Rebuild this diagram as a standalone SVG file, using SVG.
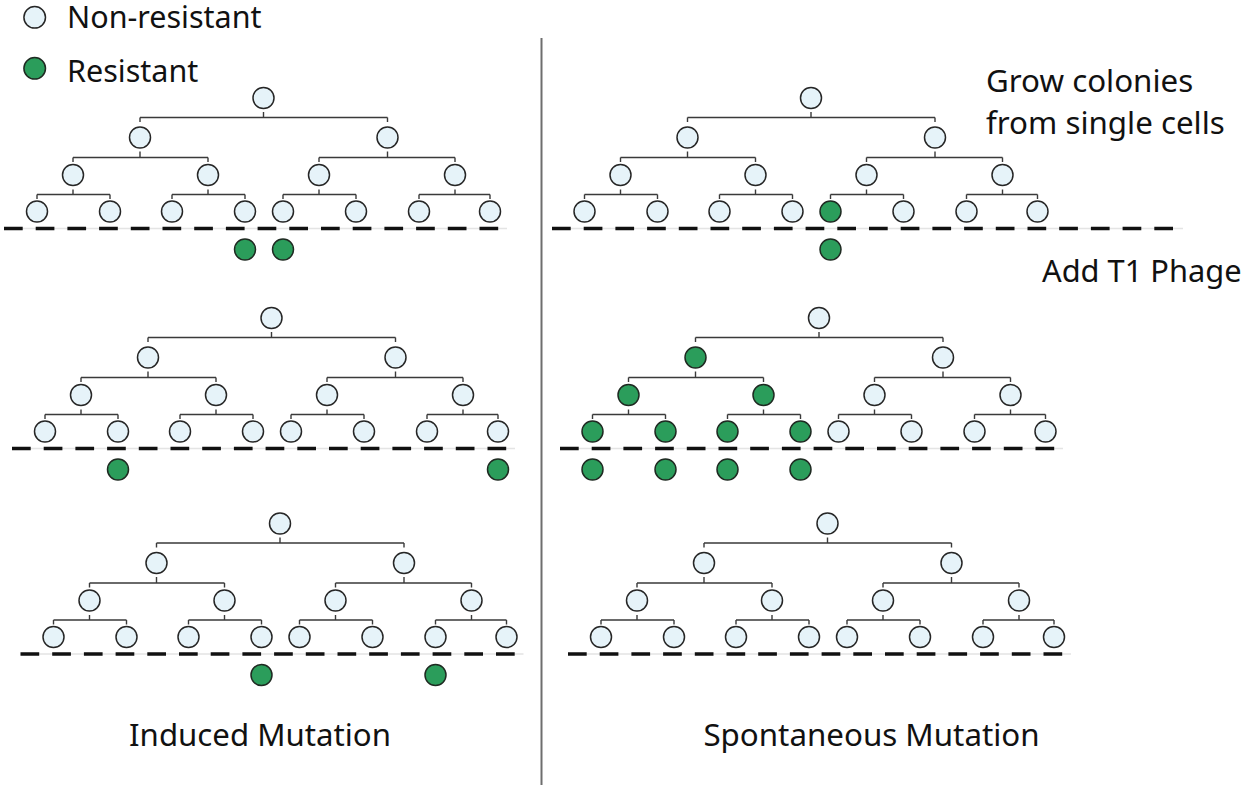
<svg xmlns="http://www.w3.org/2000/svg" xmlns:xlink="http://www.w3.org/1999/xlink" width="1248" height="789" viewBox="0 0 1248 789">
<style>
.n{fill:#e6f3f9;stroke:#262626;stroke-width:1.5}
.r{fill:#2b9d5b;stroke:#1f2a22;stroke-width:1.5}
.lk{fill:none;stroke:#3a3a3a;stroke-width:1.4}
.dash{fill:none;stroke:#111;stroke-width:3.6;stroke-dasharray:18.7 13}
.under{fill:none;stroke:#e4e4e4;stroke-width:1.5}
.t{font-family:"Noto Sans","Open Sans","Liberation Sans",sans-serif;fill:#111}
</style>
<defs>
<path id="links" d="M263.5 112V117.5M140 117.5H387.5M140 117.5V122M387.5 117.5V122M140 151.5V157.5M73 157.5H208M73 157.5V162M208 157.5V162M387.5 151.5V157.5M319 157.5H455M319 157.5V162M455 157.5V162M73 189.5V194.5M37 194.5H110M37 194.5V199M110 194.5V199M208 189.5V194.5M172 194.5H245M172 194.5V199M245 194.5V199M319 189.5V194.5M283 194.5H356M283 194.5V199M356 194.5V199M455 189.5V194.5M419 194.5H490M419 194.5V199M490 194.5V199"/>
</defs>
<rect width="1248" height="789" fill="#fff"/>

<g id="legend">
<g id="legend-nonresistant"><circle class="n" cx="34.7" cy="17.3" r="10.8"/><text class="t" x="67" y="28" font-size="30.5">Non-resistant</text></g>
<g id="legend-resistant"><circle class="r" cx="34.7" cy="68.3" r="10.8"/><text class="t" x="67" y="81.5" font-size="30.5">Resistant</text></g>
</g>

<line id="divider" x1="541.5" y1="38" x2="541.5" y2="785" stroke="#6e6e6e" stroke-width="2"/>

<g id="connectors" class="lk">
<use xlink:href="#links" href="#links"/>
<use xlink:href="#links" href="#links" transform="translate(547.5 0)"/>
<use xlink:href="#links" href="#links" transform="translate(8 220)"/>
<use xlink:href="#links" href="#links" transform="translate(555.5 220)"/>
<use xlink:href="#links" href="#links" transform="translate(16.5 425.5)"/>
<use xlink:href="#links" href="#links" transform="translate(564 425.5)"/>
</g>

<g id="thresholds">
<path class="under" d="M4 228.5H507M552 228.5H1183M12 448.5H515M560 448.5H1063M20.5 654H523.5M568 654H1071"/>
<path class="dash" d="M4 228.5H499M552 228.5H1173M12 448.5H507M560 448.5H1055M20.5 654H515.5M568 654H1063"/>
</g>

<g id="panel-top-left">
<g id="p1-root"><circle class="n" cx="263.5" cy="98" r="10.5"/></g>
<g id="p1-a"><circle class="n" cx="140" cy="137.5" r="10.5"/></g>
<g id="p1-b"><circle class="n" cx="387.5" cy="137.5" r="10.5"/></g>
<g id="p1-aa"><circle class="n" cx="73" cy="175" r="10.5"/></g>
<g id="p1-ab"><circle class="n" cx="208" cy="175" r="10.5"/></g>
<g id="p1-ba"><circle class="n" cx="319" cy="175" r="10.5"/></g>
<g id="p1-bb"><circle class="n" cx="455" cy="175" r="10.5"/></g>
<g id="p1-aaa"><circle class="n" cx="37" cy="211.5" r="10.5"/></g>
<g id="p1-aab"><circle class="n" cx="110" cy="211.5" r="10.5"/></g>
<g id="p1-aba"><circle class="n" cx="172" cy="211.5" r="10.5"/></g>
<g id="p1-abb"><circle class="n" cx="245" cy="211.5" r="10.5"/></g>
<g id="p1-baa"><circle class="n" cx="283" cy="211.5" r="10.5"/></g>
<g id="p1-bab"><circle class="n" cx="356" cy="211.5" r="10.5"/></g>
<g id="p1-bba"><circle class="n" cx="419" cy="211.5" r="10.5"/></g>
<g id="p1-bbb"><circle class="n" cx="490" cy="211.5" r="10.5"/></g>
<g id="p1-survivor1"><circle class="r" cx="245" cy="249.5" r="10.5"/></g>
<g id="p1-survivor2"><circle class="r" cx="283" cy="249.5" r="10.5"/></g>
</g>

<g id="panel-top-right" transform="translate(547.5 0)">
<g id="p2-root"><circle class="n" cx="263.5" cy="98" r="10.5"/></g>
<g id="p2-a"><circle class="n" cx="140" cy="137.5" r="10.5"/></g>
<g id="p2-b"><circle class="n" cx="387.5" cy="137.5" r="10.5"/></g>
<g id="p2-aa"><circle class="n" cx="73" cy="175" r="10.5"/></g>
<g id="p2-ab"><circle class="n" cx="208" cy="175" r="10.5"/></g>
<g id="p2-ba"><circle class="n" cx="319" cy="175" r="10.5"/></g>
<g id="p2-bb"><circle class="n" cx="455" cy="175" r="10.5"/></g>
<g id="p2-aaa"><circle class="n" cx="37" cy="211.5" r="10.5"/></g>
<g id="p2-aab"><circle class="n" cx="110" cy="211.5" r="10.5"/></g>
<g id="p2-aba"><circle class="n" cx="172" cy="211.5" r="10.5"/></g>
<g id="p2-abb"><circle class="n" cx="245" cy="211.5" r="10.5"/></g>
<g id="p2-baa"><circle class="r" cx="283" cy="211.5" r="10.5"/></g>
<g id="p2-bab"><circle class="n" cx="356" cy="211.5" r="10.5"/></g>
<g id="p2-bba"><circle class="n" cx="419" cy="211.5" r="10.5"/></g>
<g id="p2-bbb"><circle class="n" cx="490" cy="211.5" r="10.5"/></g>
<g id="p2-survivor1"><circle class="r" cx="283" cy="249.5" r="10.5"/></g>
</g>

<g id="panel-mid-left" transform="translate(8 220)">
<g id="p3-root"><circle class="n" cx="263.5" cy="98" r="10.5"/></g>
<g id="p3-a"><circle class="n" cx="140" cy="137.5" r="10.5"/></g>
<g id="p3-b"><circle class="n" cx="387.5" cy="137.5" r="10.5"/></g>
<g id="p3-aa"><circle class="n" cx="73" cy="175" r="10.5"/></g>
<g id="p3-ab"><circle class="n" cx="208" cy="175" r="10.5"/></g>
<g id="p3-ba"><circle class="n" cx="319" cy="175" r="10.5"/></g>
<g id="p3-bb"><circle class="n" cx="455" cy="175" r="10.5"/></g>
<g id="p3-aaa"><circle class="n" cx="37" cy="211.5" r="10.5"/></g>
<g id="p3-aab"><circle class="n" cx="110" cy="211.5" r="10.5"/></g>
<g id="p3-aba"><circle class="n" cx="172" cy="211.5" r="10.5"/></g>
<g id="p3-abb"><circle class="n" cx="245" cy="211.5" r="10.5"/></g>
<g id="p3-baa"><circle class="n" cx="283" cy="211.5" r="10.5"/></g>
<g id="p3-bab"><circle class="n" cx="356" cy="211.5" r="10.5"/></g>
<g id="p3-bba"><circle class="n" cx="419" cy="211.5" r="10.5"/></g>
<g id="p3-bbb"><circle class="n" cx="490" cy="211.5" r="10.5"/></g>
<g id="p3-survivor1"><circle class="r" cx="110" cy="249.5" r="10.5"/></g>
<g id="p3-survivor2"><circle class="r" cx="490" cy="249.5" r="10.5"/></g>
</g>

<g id="panel-mid-right" transform="translate(555.5 220)">
<g id="p4-root"><circle class="n" cx="263.5" cy="98" r="10.5"/></g>
<g id="p4-a"><circle class="r" cx="140" cy="137.5" r="10.5"/></g>
<g id="p4-b"><circle class="n" cx="387.5" cy="137.5" r="10.5"/></g>
<g id="p4-aa"><circle class="r" cx="73" cy="175" r="10.5"/></g>
<g id="p4-ab"><circle class="r" cx="208" cy="175" r="10.5"/></g>
<g id="p4-ba"><circle class="n" cx="319" cy="175" r="10.5"/></g>
<g id="p4-bb"><circle class="n" cx="455" cy="175" r="10.5"/></g>
<g id="p4-aaa"><circle class="r" cx="37" cy="211.5" r="10.5"/></g>
<g id="p4-aab"><circle class="r" cx="110" cy="211.5" r="10.5"/></g>
<g id="p4-aba"><circle class="r" cx="172" cy="211.5" r="10.5"/></g>
<g id="p4-abb"><circle class="r" cx="245" cy="211.5" r="10.5"/></g>
<g id="p4-baa"><circle class="n" cx="283" cy="211.5" r="10.5"/></g>
<g id="p4-bab"><circle class="n" cx="356" cy="211.5" r="10.5"/></g>
<g id="p4-bba"><circle class="n" cx="419" cy="211.5" r="10.5"/></g>
<g id="p4-bbb"><circle class="n" cx="490" cy="211.5" r="10.5"/></g>
<g id="p4-survivor1"><circle class="r" cx="37" cy="249.5" r="10.5"/></g>
<g id="p4-survivor2"><circle class="r" cx="110" cy="249.5" r="10.5"/></g>
<g id="p4-survivor3"><circle class="r" cx="172" cy="249.5" r="10.5"/></g>
<g id="p4-survivor4"><circle class="r" cx="245" cy="249.5" r="10.5"/></g>
</g>

<g id="panel-bottom-left" transform="translate(16.5 425.5)">
<g id="p5-root"><circle class="n" cx="263.5" cy="98" r="10.5"/></g>
<g id="p5-a"><circle class="n" cx="140" cy="137.5" r="10.5"/></g>
<g id="p5-b"><circle class="n" cx="387.5" cy="137.5" r="10.5"/></g>
<g id="p5-aa"><circle class="n" cx="73" cy="175" r="10.5"/></g>
<g id="p5-ab"><circle class="n" cx="208" cy="175" r="10.5"/></g>
<g id="p5-ba"><circle class="n" cx="319" cy="175" r="10.5"/></g>
<g id="p5-bb"><circle class="n" cx="455" cy="175" r="10.5"/></g>
<g id="p5-aaa"><circle class="n" cx="37" cy="211.5" r="10.5"/></g>
<g id="p5-aab"><circle class="n" cx="110" cy="211.5" r="10.5"/></g>
<g id="p5-aba"><circle class="n" cx="172" cy="211.5" r="10.5"/></g>
<g id="p5-abb"><circle class="n" cx="245" cy="211.5" r="10.5"/></g>
<g id="p5-baa"><circle class="n" cx="283" cy="211.5" r="10.5"/></g>
<g id="p5-bab"><circle class="n" cx="356" cy="211.5" r="10.5"/></g>
<g id="p5-bba"><circle class="n" cx="419" cy="211.5" r="10.5"/></g>
<g id="p5-bbb"><circle class="n" cx="490" cy="211.5" r="10.5"/></g>
<g id="p5-survivor1"><circle class="r" cx="245" cy="249.5" r="10.5"/></g>
<g id="p5-survivor2"><circle class="r" cx="419" cy="249.5" r="10.5"/></g>
</g>

<g id="panel-bottom-right" transform="translate(564 425.5)">
<g id="p6-root"><circle class="n" cx="263.5" cy="98" r="10.5"/></g>
<g id="p6-a"><circle class="n" cx="140" cy="137.5" r="10.5"/></g>
<g id="p6-b"><circle class="n" cx="387.5" cy="137.5" r="10.5"/></g>
<g id="p6-aa"><circle class="n" cx="73" cy="175" r="10.5"/></g>
<g id="p6-ab"><circle class="n" cx="208" cy="175" r="10.5"/></g>
<g id="p6-ba"><circle class="n" cx="319" cy="175" r="10.5"/></g>
<g id="p6-bb"><circle class="n" cx="455" cy="175" r="10.5"/></g>
<g id="p6-aaa"><circle class="n" cx="37" cy="211.5" r="10.5"/></g>
<g id="p6-aab"><circle class="n" cx="110" cy="211.5" r="10.5"/></g>
<g id="p6-aba"><circle class="n" cx="172" cy="211.5" r="10.5"/></g>
<g id="p6-abb"><circle class="n" cx="245" cy="211.5" r="10.5"/></g>
<g id="p6-baa"><circle class="n" cx="283" cy="211.5" r="10.5"/></g>
<g id="p6-bab"><circle class="n" cx="356" cy="211.5" r="10.5"/></g>
<g id="p6-bba"><circle class="n" cx="419" cy="211.5" r="10.5"/></g>
<g id="p6-bbb"><circle class="n" cx="490" cy="211.5" r="10.5"/></g>
</g>

<g id="labels">
<text class="t" x="986" y="92" font-size="31.3">Grow colonies</text>
<text class="t" x="986" y="134" font-size="31.3">from single cells</text>
<text class="t" x="1042" y="282" font-size="30.8">Add T1 Phage</text>
<text class="t" x="260" y="746" font-size="31.2" text-anchor="middle">Induced Mutation</text>
<text class="t" x="871.5" y="746" font-size="31.3" text-anchor="middle">Spontaneous Mutation</text>
</g>
</svg>
